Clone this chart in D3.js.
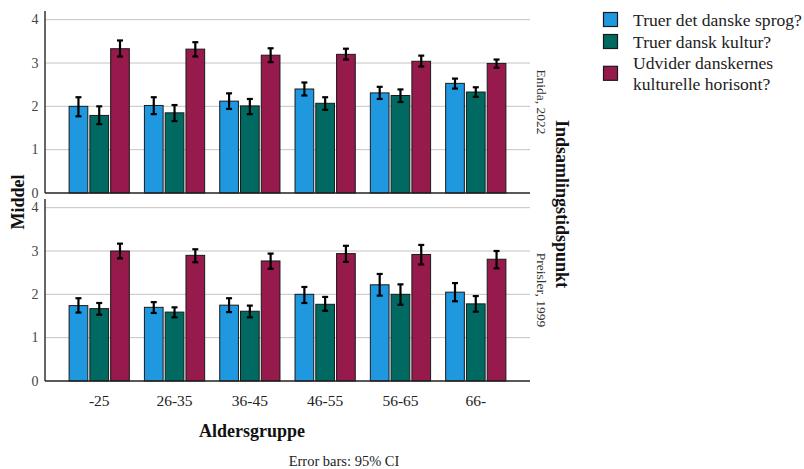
<html>
<head>
<meta charset="utf-8">
<script src="https://d3js.org/d3.v7.min.js"></script>
<style>
  body { margin: 0; background: #fff; }
  text { font-family: "Liberation Serif", serif; }
</style>
</head>
<body>
<svg id="chart" width="804" height="469"></svg>
<script>

// age groups on the x axis
var ageGroups = ["-25", "26-35", "36-45", "46-55", "56-65", "66-"];
var seriesNames = ["Truer det danske sprog?", "Truer dansk kultur?", "Udvider danskernes kulturelle horisont?"];
var panelNames = ["Enida, 2022", "Preisler, 1999"];
var yTicks = [0, 1, 2, 3, 4];

// Enida, 2022 - means and 95% CI
var enidaSprog      = [2.00, 2.02, 2.12, 2.40, 2.31, 2.53];
var enidaSprogLow   = [1.77, 1.82, 1.94, 2.25, 2.17, 2.41];
var enidaSprogHigh  = [2.21, 2.21, 2.30, 2.55, 2.45, 2.64];
var enidaKultur     = [1.79, 1.85, 2.01, 2.07, 2.25, 2.33];
var enidaKulturLow  = [1.59, 1.66, 1.82, 1.92, 2.10, 2.22];
var enidaKulturHigh = [2.00, 2.03, 2.17, 2.21, 2.39, 2.44];
var enidaHoriz      = [3.33, 3.32, 3.18, 3.20, 3.04, 2.99];
var enidaHorizLow   = [3.15, 3.15, 3.02, 3.08, 2.92, 2.89];
var enidaHorizHigh  = [3.52, 3.48, 3.34, 3.33, 3.17, 3.08];

// Preisler, 1999 - means and 95% CI
var preislerSprog      = [1.74, 1.70, 1.75, 2.00, 2.22, 2.05];
var preislerSprogLow   = [1.58, 1.57, 1.59, 1.80, 1.97, 1.84];
var preislerSprogHigh  = [1.91, 1.82, 1.91, 2.17, 2.47, 2.26];
var preislerKultur     = [1.67, 1.59, 1.61, 1.77, 2.00, 1.78];
var preislerKulturLow  = [1.53, 1.47, 1.47, 1.62, 1.76, 1.60];
var preislerKulturHigh = [1.80, 1.70, 1.74, 1.94, 2.23, 1.96];
var preislerHoriz      = [3.00, 2.90, 2.77, 2.94, 2.92, 2.81];
var preislerHorizLow   = [2.83, 2.74, 2.59, 2.75, 2.69, 2.60];
var preislerHorizHigh  = [3.17, 3.04, 2.94, 3.12, 3.14, 3.00];

var colors = ["#1f98e0", "#006961", "#971a4c"];

// build rows for each panel
function rows(means, lows, highs) {
  var out = [];
  ageGroups.forEach(function(g, i) {
    means.forEach(function(m, s) {
      out.push({group: g, series: s, value: m[i], low: lows[s][i], high: highs[s][i]});
    });
  });
  return out;
}

var panelData = [
  rows([enidaSprog, enidaKultur, enidaHoriz],
       [enidaSprogLow, enidaKulturLow, enidaHorizLow],
       [enidaSprogHigh, enidaKulturHigh, enidaHorizHigh]),
  rows([preislerSprog, preislerKultur, preislerHoriz],
       [preislerSprogLow, preislerKulturLow, preislerHorizLow],
       [preislerSprogHigh, preislerKulturHigh, preislerHorizHigh])
];

var svg = d3.select("#chart");
var left = 45, right = 530;
var panelTops = [11, 199], panelBottoms = [193, 381];

var x0 = d3.scaleBand().domain(ageGroups).range([left, right]).paddingInner(0.2).paddingOuter(0.32);
var x1 = d3.scaleBand().domain([0, 1, 2]).range([0, x0.bandwidth()]).paddingInner(0.1);

panelData.forEach(function(data, p) {
  var y = d3.scaleLinear().domain([0, 4.2]).range([panelBottoms[p], panelTops[p]]);
  var g = svg.append("g");

  // gridlines
  g.selectAll("line.grid")
    .data(yTicks.slice(1))
    .enter().append("line")
      .attr("x1", left).attr("x2", right)
      .attr("y1", function(d) { return y(d); })
      .attr("y2", function(d) { return y(d); })
      .attr("stroke", "#c4c4c4").attr("stroke-width", 1);

  // y axis labels
  g.selectAll("text.ytick")
    .data(yTicks)
    .enter().append("text")
      .attr("x", 38.5)
      .attr("y", function(d) { return y(d) + 4.5; })
      .attr("text-anchor", "end")
      .attr("font-size", 14)
      .attr("fill", "#444")
      .text(function(d) { return d; });

  // bars
  g.selectAll("rect.bar")
    .data(data)
    .enter().append("rect")
      .attr("x", function(d) { return x0(d.group) + x1(d.series); })
      .attr("width", x1.bandwidth())
      .attr("y", function(d) { return y(d.value); })
      .attr("height", function(d) { return y(0) - y(d.value); })
      .attr("fill", function(d) { return colors[d.series]; })
      .attr("stroke", "#1a1a1a").attr("stroke-width", 1);

  // error bars
  var eb = g.selectAll("g.err").data(data).enter().append("g")
    .attr("transform", function(d) { return "translate(" + (x0(d.group) + x1(d.series) + x1.bandwidth() / 2) + ",0)"; });
  eb.append("line")
    .attr("y1", function(d) { return y(d.low); })
    .attr("y2", function(d) { return y(d.high); })
    .attr("stroke", "#000").attr("stroke-width", 2.2);
  eb.append("line")
    .attr("x1", -3).attr("x2", 3)
    .attr("y1", function(d) { return y(d.low); })
    .attr("y2", function(d) { return y(d.low); })
    .attr("stroke", "#000").attr("stroke-width", 2.2);
  eb.append("line")
    .attr("x1", -3).attr("x2", 3)
    .attr("y1", function(d) { return y(d.high); })
    .attr("y2", function(d) { return y(d.high); })
    .attr("stroke", "#000").attr("stroke-width", 2.2);

  // axis lines
  g.append("line")
    .attr("x1", left).attr("x2", left)
    .attr("y1", panelTops[p]).attr("y2", y(0))
    .attr("stroke", "#333").attr("stroke-width", 1.5);
  g.append("line")
    .attr("x1", left).attr("x2", right)
    .attr("y1", y(0)).attr("y2", y(0))
    .attr("stroke", "#222").attr("stroke-width", 1.5);

  // panel label on the right
  svg.append("text")
    .attr("transform", "translate(537," + ((panelTops[p] + panelBottoms[p]) / 2) + ") rotate(90)")
    .attr("text-anchor", "middle")
    .attr("font-size", 13.5)
    .attr("fill", "#333")
    .text(panelNames[p]);
});

// x axis labels
svg.selectAll("text.xtick")
  .data(ageGroups)
  .enter().append("text")
    .attr("x", function(d) { return x0(d) + x0.bandwidth() / 2; })
    .attr("y", 406)
    .attr("text-anchor", "middle")
    .attr("font-size", 15.5)
    .attr("fill", "#222")
    .text(function(d) { return d; });

svg.append("text")
  .attr("x", 252).attr("y", 437)
  .attr("text-anchor", "middle")
  .attr("font-size", 18).attr("font-weight", "bold")
  .attr("fill", "#111")
  .text("Aldersgruppe");

svg.append("text")
  .attr("transform", "translate(24,202) rotate(-90)")
  .attr("text-anchor", "middle")
  .attr("font-size", 18).attr("font-weight", "bold")
  .attr("fill", "#111")
  .text("Middel");

svg.append("text")
  .attr("transform", "translate(556,204) rotate(90)")
  .attr("text-anchor", "middle")
  .attr("font-size", 18).attr("font-weight", "bold")
  .attr("fill", "#111")
  .text("Indsamlingstidspunkt");

svg.append("text")
  .attr("x", 344).attr("y", 466)
  .attr("text-anchor", "middle")
  .attr("font-size", 14.5)
  .attr("fill", "#222")
  .text("Error bars: 95% CI");

// legend
var legendY = [19.5, 41.5, 73.3];
var legend = svg.append("g");
seriesNames.forEach(function(name, i) {
  legend.append("rect")
    .attr("x", 603.5).attr("y", legendY[i] - 7)
    .attr("width", 14).attr("height", 14)
    .attr("fill", colors[i])
    .attr("stroke", "#1a1a1a").attr("stroke-width", 1.2);
  var lines = i === 2 ? ["Udvider danskernes", "kulturelle horisont?"] : [name];
  lines.forEach(function(line, k) {
    legend.append("text")
      .attr("class", "leg")
      .attr("x", 633)
      .attr("y", legendY[i] + 6 + (lines.length === 2 ? (k === 0 ? -10.5 : 10.5) : 0))
      .attr("font-size", 18)
      .attr("fill", "#222")
      .text(line);
  });
});

// shrink the legend font so the widest line fits before the right edge
var widest = d3.max(legend.selectAll("text.leg").nodes(), function(n) { return n.getComputedTextLength(); });
var legendSize = Math.min(18, 18 * 169 / widest);
legend.selectAll("text.leg").attr("font-size", legendSize);

</script>
</body>
</html>
